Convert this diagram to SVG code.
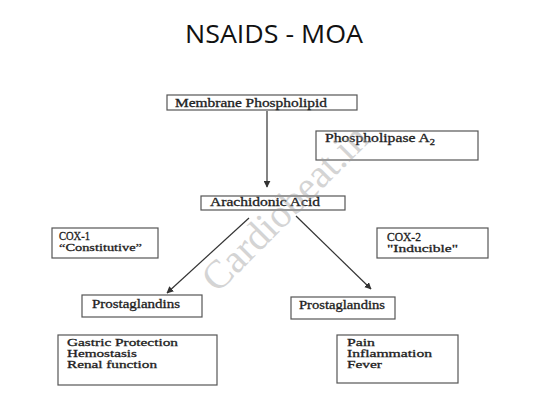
<svg xmlns="http://www.w3.org/2000/svg" width="549" height="411" viewBox="0 0 549 411">
<style>
.box{fill:none;stroke:#555;stroke-width:1.2}
.t{font-family:"Liberation Serif","Times New Roman",serif;font-size:12px;fill:#222;stroke:#222;stroke-width:0.3}
.s{font-size:10.5px}
.c{font-size:11.5px}
.title{font-family:"Open Sans","Liberation Sans",sans-serif;font-size:25px;fill:#111}
.wm{font-family:"Liberation Serif","Times New Roman",serif;font-size:40px;fill:#9a9a9a;opacity:0.42}
.ln{stroke:#333;stroke-width:1.2;fill:none}
</style>
<defs>
<marker id="ah" viewBox="0 0 10 10" refX="9" refY="5" markerWidth="7" markerHeight="7" markerUnits="userSpaceOnUse" orient="auto">
<path d="M0,0 L10,5 L0,10 Z" fill="#333"/>
</marker>
</defs>
<rect width="549" height="411" fill="#fff"/>
<text class="title" x="274" y="43" text-anchor="middle" textLength="178" lengthAdjust="spacingAndGlyphs">NSAIDS - MOA</text>

<g id="connectors">
<line class="ln" x1="267" y1="111" x2="267" y2="187" marker-end="url(#ah)"/>
<line class="ln" x1="249" y1="218" x2="167" y2="293" marker-end="url(#ah)"/>
<line class="ln" x1="296" y1="216" x2="371" y2="289" marker-end="url(#ah)"/>
</g>

<g id="membrane">
<rect class="box" x="167" y="95" width="190" height="15"/>
<text class="t" x="175" y="107" textLength="152" lengthAdjust="spacingAndGlyphs">Membrane Phospholipid</text>
</g>
<g id="phospholipase">
<rect class="box" x="316" y="131" width="162" height="29"/>
<text class="t" x="325" y="142" textLength="110" lengthAdjust="spacingAndGlyphs">Phospholipase A<tspan font-size="8" dy="3">2</tspan></text>
</g>
<g id="arachidonic">
<rect class="box" x="201" y="196" width="144" height="14"/>
<text class="t" x="210" y="206" textLength="110" lengthAdjust="spacingAndGlyphs">Arachidonic Acid</text>
</g>
<g id="cox1">
<rect class="box" x="52" y="228" width="106" height="30"/>
<text class="t c" x="59" y="240" textLength="31" lengthAdjust="spacingAndGlyphs">COX-1</text>
<text class="t s" x="59" y="251" textLength="83" lengthAdjust="spacingAndGlyphs">“Constitutive”</text>
</g>
<g id="cox2">
<rect class="box" x="377" y="228" width="111" height="30"/>
<text class="t c" x="387" y="241" textLength="34" lengthAdjust="spacingAndGlyphs">COX-2</text>
<text class="t s" x="387" y="252" textLength="71" lengthAdjust="spacingAndGlyphs">"Inducible"</text>
</g>
<g id="pg1">
<rect class="box" x="82" y="295" width="120" height="22"/>
<text class="t" x="92" y="308" textLength="88" lengthAdjust="spacingAndGlyphs">Prostaglandins</text>
</g>
<g id="pg2">
<rect class="box" x="291" y="297" width="104" height="22"/>
<text class="t" x="299" y="309" textLength="86" lengthAdjust="spacingAndGlyphs">Prostaglandins</text>
</g>
<g id="effects1">
<rect class="box" x="58" y="335" width="159" height="50"/>
<text class="t s" x="67" y="346" textLength="111" lengthAdjust="spacingAndGlyphs">Gastric Protection</text>
<text class="t s" x="67" y="357" textLength="70" lengthAdjust="spacingAndGlyphs">Hemostasis</text>
<text class="t s" x="67" y="368" textLength="90" lengthAdjust="spacingAndGlyphs">Renal function</text>
</g>
<g id="effects2">
<rect class="box" x="337" y="335" width="121" height="48"/>
<text class="t s" x="347" y="346" textLength="28" lengthAdjust="spacingAndGlyphs">Pain</text>
<text class="t s" x="347" y="357" textLength="85" lengthAdjust="spacingAndGlyphs">Inflammation</text>
<text class="t s" x="347" y="368" textLength="35" lengthAdjust="spacingAndGlyphs">Fever</text>
</g>

<text class="wm" transform="translate(285,208) rotate(-45)" x="0" y="13" text-anchor="middle">Cardiobeat.in</text>
</svg>
